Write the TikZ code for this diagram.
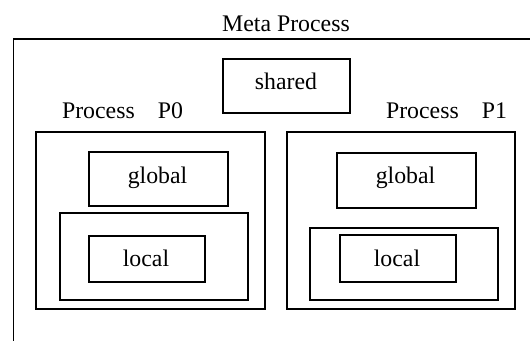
\documentclass[tikz,border=0pt]{standalone}
\usepackage{fontspec}
\setmainfont{Liberation Serif}
\begin{document}
\begin{tikzpicture}[x=0.5pt,y=-0.5pt,
  box/.style={draw, line width=0.95pt, inner sep=0pt, anchor=north west},
  lbl/.style={anchor=base, inner sep=0pt, font=\fontsize{11.9}{14}\selectfont}]
\useasboundingbox (0,0) rectangle (530,341);
\clip (0,0) rectangle (530,341);
% meta process (open on right and bottom)
\node[box, minimum width=600pt, minimum height=400pt] (meta) at (12.5,38.5) {};
\node[lbl] (metalbl) at (286,32) {Meta Process};
% shared
\node[box, minimum width=63.5pt, minimum height=27pt] (shared) at (222,58) {};
\node[lbl] (sharedlbl) at (286,90) {shared};
% Process P0
\node[lbl] (p0lbl) at (122.5,119) {Process\hspace{11.5pt}P0};
\node[box, minimum width=114.5pt, minimum height=88.5pt] (p0) at (35,131) {};
\node[box, minimum width=69.5pt, minimum height=27pt] (p0g) at (88,151) {};
\node[lbl] (p0glbl) at (157.5,183.5) {global};
\node[box, minimum width=94pt, minimum height=43.5pt] (p0lo) at (59,212) {};
\node[box, minimum width=58pt, minimum height=23pt] (p0l) at (88,235) {};
\node[lbl] (p0llbl) at (146,266.5) {local};
% Process P1
\node[lbl] (p1lbl) at (446.5,119) {Process\hspace{11.5pt}P1};
\node[box, minimum width=114pt, minimum height=88.5pt] (p1) at (286,131) {};
\node[box, minimum width=69.5pt, minimum height=27.5pt] (p1g) at (336,152) {};
\node[lbl] (p1glbl) at (405.5,184) {global};
\node[box, minimum width=94pt, minimum height=36pt] (p1lo) at (309,227) {};
\node[box, minimum width=58pt, minimum height=23.5pt] (p1l) at (339,234) {};
\node[lbl] (p1llbl) at (397,266.5) {local};
\end{tikzpicture}
\end{document}
